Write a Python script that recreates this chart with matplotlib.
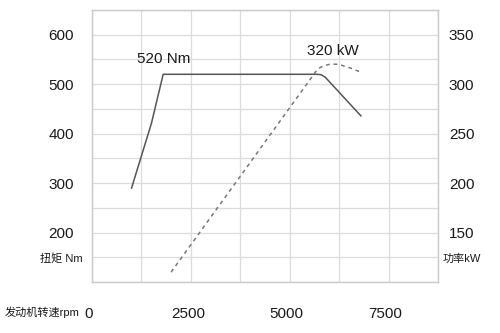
import matplotlib
matplotlib.use('Agg')
import matplotlib.pyplot as plt
import matplotlib.transforms as mtransforms
import numpy as np

plt.rcParams['font.family'] = ['Liberation Sans', 'Noto Sans CJK SC', 'DejaVu Sans']

# torque curve (Nm) against engine speed
torque_rpm = [1000, 1500, 1800, 5700, 5800, 5900, 6800]
torque_nm = [290, 420, 520, 520, 519, 514, 436]

# power curve (kW) against engine speed
power_rpm = [2000, 5700, 5800, 5900, 6000, 6100, 6250, 6400, 6600, 6800]
power_kw = [110, 315, 317.5, 319, 320, 320.3, 320, 318, 315.5, 312]

x_ticks = [0, 2500, 5000, 7500]
x_labels = ['0', '2500', '5000', '7500']
torque_ticks = [100, 150, 200, 250, 300, 350, 400, 450, 500, 550, 600, 650]
torque_labels = ['', '扭矩 Nm', '200', '', '300', '', '400', '', '500', '', '600', '']
power_ticks = [100, 125, 150, 175, 200, 225, 250, 275, 300, 325, 350, 375]
power_labels = ['', '功率kW', '150', '', '200', '', '250', '', '300', '', '350', '']

grid_col = '#dcdcdc'
text_col = '#1a1a1a'

fig = plt.figure(figsize=(5, 3.33), dpi=100)
ax = fig.add_axes([0.184, 0.153, 0.692, 0.817])
ax2 = ax.twinx()

ax.plot(torque_rpm, torque_nm, color='#555555', lw=1.1)
ax2.plot(power_rpm, power_kw, color='#777777', lw=1.1, linestyle=(0, (2.5, 2.5)))

ax.set_xlim(0, 8750)
ax.set_ylim(100, 650)
ax2.set_ylim(100, 375)

ax.set_xticks(np.arange(0, 8751, 1250), minor=True)
ax.set_xticks(x_ticks)
ax.set_xticklabels(x_labels)
ax.set_yticks(torque_ticks)
ax.set_yticklabels(torque_labels)
ax2.set_yticks(power_ticks)
ax2.set_yticklabels(power_labels)

ax.grid(True, which='both', axis='x', color=grid_col, lw=0.9)
ax.grid(True, axis='y', color=grid_col, lw=0.9)
ax.set_axisbelow(True)

for a in (ax, ax2):
    for s in a.spines.values():
        s.set_color('#cccccc')
        s.set_linewidth(0.9)
    a.tick_params(which='both', length=0, labelsize=11, colors=text_col)

ax.tick_params(axis='y', pad=22)
ax2.tick_params(axis='y', pad=17)
ax.tick_params(axis='x', pad=18)
for lab in ax.get_yticklabels() + ax2.get_yticklabels():
    lab.set_horizontalalignment('center')
    if 'm' in lab.get_text() or 'W' in lab.get_text():
        lab.set_fontsize(8)

# x labels sit slightly left of their gridlines in the original
shift = mtransforms.ScaledTranslation(-3 / 100, 0, fig.dpi_scale_trans)
for lab in ax.get_xticklabels():
    lab.set_transform(lab.get_transform() + shift)

ax.text(1820, 550, '520 Nm', ha='center', va='center', fontsize=11, color=text_col)
ax2.text(6100, 334, '320 kW', ha='center', va='center', fontsize=11, color=text_col)

fig.text(0.01, 0.063, '发动机转速rpm', ha='left', va='center', fontsize=8, color=text_col)

fig.savefig('out.png', dpi=100)
